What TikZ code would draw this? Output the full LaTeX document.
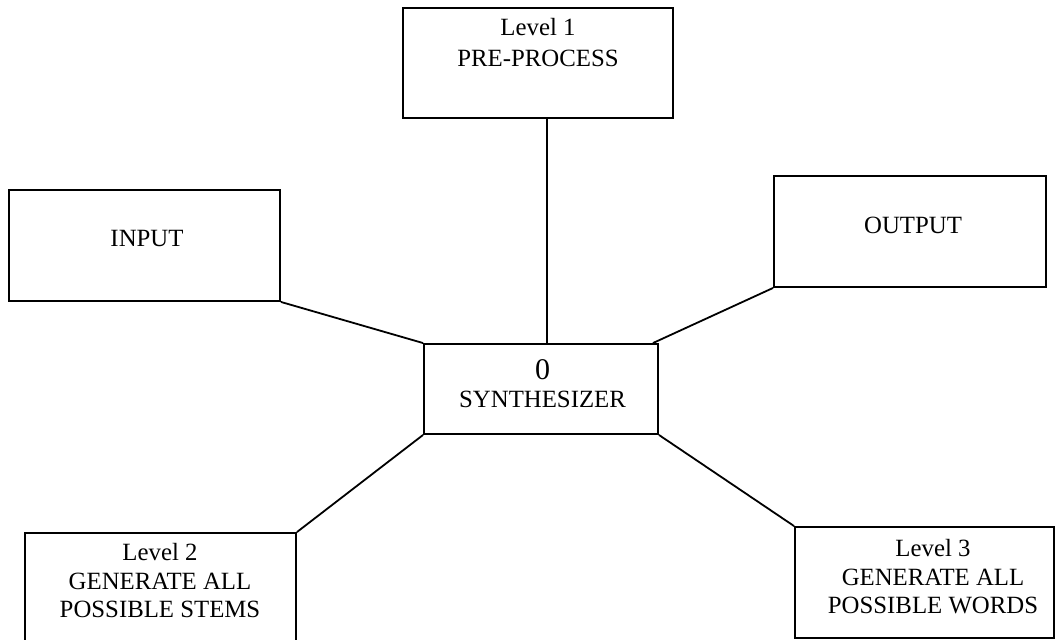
\documentclass[tikz,border=0pt]{standalone}
\usepackage{fontspec}
\setmainfont{Liberation Serif}
\begin{document}
\begin{tikzpicture}[x=1pt, y=-1pt,
  box/.style={draw, line width=1.9pt, inner sep=0pt, minimum width=#1},
  lbl/.style={align=center, inner sep=0pt, font=\fontsize{24.8}{28.5}\selectfont},
  link/.style={line width=1.8pt}]
  \useasboundingbox (0,0) rectangle (1056,639);
  \clip (0,0) rectangle (1056,639);

  % boxes
  \node[box=270pt, minimum height=110pt] (l1)  at (538,63)      {};
  \node[box=271pt, minimum height=111pt] (in)  at (144.5,245.5) {};
  \node[box=272pt, minimum height=111pt] (out) at (910,231.5)   {};
  \node[box=234pt, minimum height=90pt]  (syn) at (541,389)     {};
  \node[box=271pt, minimum height=127pt] (l2)  at (160.5,596.5) {};
  \node[box=259pt, minimum height=111pt] (l3)  at (924.5,582.5) {};

  % texts
  \node[lbl, font=\fontsize{24.8}{31}\selectfont] (t1) at (538,42.5) {Level 1\\PRE-PROCESS};
  \node[lbl] (tin)  at (147,239) {INPUT};
  \node[lbl] (tout) at (913,225) {OUTPUT};
  \node[lbl] (tsyn) at (542.5,383.5) {{\fontsize{30}{30}\selectfont 0}\\SYNTHESIZER};
  \node[lbl] (t2) at (160,581) {Level 2\\GENERATE ALL\\POSSIBLE STEMS};
  \node[lbl] (t3) at (933,577) {Level 3\\GENERATE ALL\\POSSIBLE WORDS};

  % connectors
  \draw[link] ([xshift=9pt]l1.south) -- ([xshift=6pt]syn.north);
  \draw[link] (in.south east) -- (syn.north west);
  \draw[link] (out.south west) -- ([xshift=-6pt]syn.north east);
  \draw[link] (l2.north east) -- (syn.south west);
  \draw[link] (l3.north west) -- (syn.south east);
\end{tikzpicture}
\end{document}
